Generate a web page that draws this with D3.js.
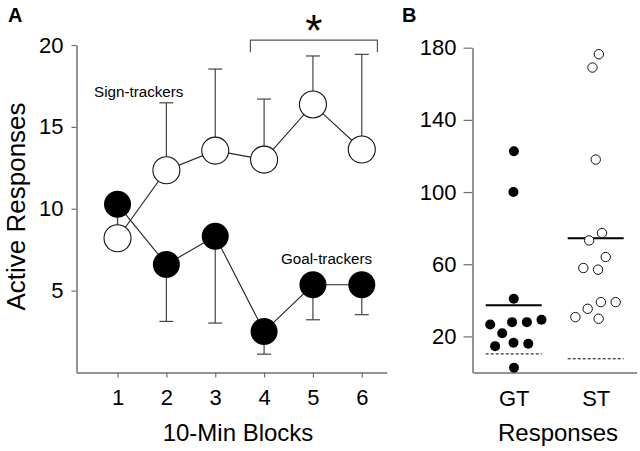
<!DOCTYPE html>
<html><head><meta charset="utf-8">
<script src="https://cdn.jsdelivr.net/npm/d3@7"></script>
<style>body{margin:0;background:#fff}svg{display:block;font-family:"Liberation Sans",Arial,sans-serif}</style>
</head><body>
<script>
// ---- Panel A data ----
const blocks = [1, 2, 3, 4, 5, 6];
const stMean = [8.2, 12.35, 13.55, 13.0, 16.37, 13.62];
const stSem  = [1.8, 4.12, 4.98, 3.7, 2.96, 5.81];
const gtMean = [10.27, 6.6, 8.32, 2.5, 5.36, 5.36];
const gtSem  = [1.5, 3.48, 5.3, 1.38, 2.14, 1.83];
const yTicksA = [5, 10, 15, 20];
const sigBlocks = [3.72, 6.32];
const sigLevel = [20.3, 19.55];
// ---- Panel B data ----
const groupsB = ["GT", "ST"];
const gtResp = [122.6, 100, 40.9, 27.9, 26.6, 29.2, 27.9, 21.8, 15.9, 14.6, 16.5, 2.6];
const stResp = [176.4, 169, 118, 77.3, 73.2, 64, 57, 57.9, 39, 35.3, 39, 29.8, 30.7];
const baselineB = [10.3, 7.6];
const yTicksB = [20, 60, 100, 140, 180];

const W = 640, H = 451;
const svg = d3.select("body").append("svg").attr("width", W).attr("height", H);
svg.append("rect").attr("width", W).attr("height", H).attr("fill", "#fff");
const axisCol = "#707070";

function styleAxis(g, fs) {
  g.selectAll(".domain").attr("stroke", axisCol).attr("stroke-width", 1.5);
  g.selectAll(".tick line").attr("stroke", axisCol).attr("stroke-width", 1.2);
  g.selectAll(".tick text").attr("fill", "#000").style("font-size", fs + "px")
    .style("font-family", '"Liberation Sans",Arial,sans-serif');
}

// ================= Panel A =================
const xA = d3.scaleLinear().domain([0.16, 6.51]).range([76.5, 386.7]);
const yA = d3.scaleLinear().domain([0, 20]).range([372.5, 45]);

const gyA = svg.append("g").attr("transform", "translate(76.5,0)")
  .call(d3.axisLeft(yA).tickValues(yTicksA).tickSize(5).tickSizeOuter(0).tickPadding(8));
styleAxis(gyA, 22);
const gxA = svg.append("g").attr("transform", "translate(0,372.5)")
  .call(d3.axisBottom(xA).tickValues(blocks).tickSize(5).tickSizeOuter(0).tickPadding(12).tickFormat(d3.format("d")));
styleAxis(gxA, 22);

const capW = 7;
const errCol = "#444";
blocks.forEach((b, i) => {
  const x = xA(b);
  const g = svg.append("g").attr("stroke", errCol).attr("stroke-width", 1.2);
  g.append("line").attr("x1", x).attr("x2", x).attr("y1", yA(stMean[i])).attr("y2", yA(stMean[i] + stSem[i]));
  g.append("line").attr("x1", x - capW).attr("x2", x + capW).attr("y1", yA(stMean[i] + stSem[i])).attr("y2", yA(stMean[i] + stSem[i]));
  g.append("line").attr("x1", x).attr("x2", x).attr("y1", yA(gtMean[i])).attr("y2", yA(gtMean[i] - gtSem[i]));
  g.append("line").attr("x1", x - capW).attr("x2", x + capW).attr("y1", yA(gtMean[i] - gtSem[i])).attr("y2", yA(gtMean[i] - gtSem[i]));
});

const lineA = d3.line().x((d, i) => xA(blocks[i])).y(d => yA(d));
svg.append("path").datum(stMean).attr("d", lineA).attr("fill", "none").attr("stroke", "#222").attr("stroke-width", 1.1);
svg.append("path").datum(gtMean).attr("d", lineA).attr("fill", "none").attr("stroke", "#222").attr("stroke-width", 1.1);

svg.selectAll("circle.st").data(stMean).join("circle").attr("class", "st")
  .attr("cx", (d, i) => xA(blocks[i])).attr("cy", d => yA(d)).attr("r", 13.5)
  .attr("fill", "#fff").attr("stroke", "#111").attr("stroke-width", 1.1);
svg.selectAll("circle.gt").data(gtMean).join("circle").attr("class", "gt")
  .attr("cx", (d, i) => xA(blocks[i])).attr("cy", d => yA(d)).attr("r", 13.5)
  .attr("fill", "#000");

svg.append("path")
  .attr("d", `M${xA(sigBlocks[0])},${yA(sigLevel[1])}V${yA(sigLevel[0])}H${xA(sigBlocks[1])}V${yA(sigLevel[1])}`)
  .attr("fill", "none").attr("stroke", "#555").attr("stroke-width", 1.2);
svg.append("text").attr("x", xA((sigBlocks[0] + sigBlocks[1]) / 2)).attr("y", 46)
  .attr("text-anchor", "middle").style("font-size", "44px").text("*");

svg.append("text").attr("x", 94).attr("y", 96.5).style("font-size", "15.2px").text("Sign-trackers");
svg.append("text").attr("x", 281).attr("y", 264).style("font-size", "15.2px").text("Goal-trackers");

svg.append("text").attr("x", 238).attr("y", 441).attr("text-anchor", "middle").style("font-size", "24px").text("10-Min Blocks");
svg.append("text").attr("transform", "translate(25,206.5) rotate(-90)").attr("text-anchor", "middle")
  .style("font-size", "26px").text("Active Responses");
svg.append("text").attr("x", 8).attr("y", 22).style("font-size", "20px").style("font-weight", "bold").text("A");

// ================= Panel B =================
const xB = d3.scalePoint().domain(groupsB).range([472.7, 636.7]).padding(0.5);
const yB = d3.scaleLinear().domain([0, 180]).range([372.5, 47.7]);

const gyB = svg.append("g").attr("transform", "translate(472.5,0)")
  .call(d3.axisLeft(yB).tickValues(yTicksB).tickSize(9).tickSizeOuter(0).tickPadding(7));
styleAxis(gyB, 22);
const gxB = svg.append("g").attr("transform", "translate(0,372.5)")
  .call(d3.axisBottom(xB).tickSize(0).tickPadding(18));
styleAxis(gxB, 22);

const rB = 5;
function swarm(values) {
  const nodes = values.map(v => ({ v, fy: yB(v) }));
  const sim = d3.forceSimulation(nodes)
    .force("x", d3.forceX(0).strength(0.05))
    .force("collide", d3.forceCollide(7.4).strength(0.9))
    .stop();
  for (let i = 0; i < 400; i++) sim.tick();
  return nodes;
}
const gtNodes = swarm(gtResp), stNodes = swarm(stResp);

[[gtResp, "GT", 0], [stResp, "ST", 1]].forEach(([vals, grp, k]) => {
  const cx = xB(grp);
  svg.append("line").attr("x1", cx - 28).attr("x2", cx + 28)
    .attr("y1", yB(d3.mean(vals))).attr("y2", yB(d3.mean(vals)))
    .attr("stroke", "#000").attr("stroke-width", 2);
  svg.append("line").attr("x1", cx - 28).attr("x2", cx + 28)
    .attr("y1", yB(baselineB[k])).attr("y2", yB(baselineB[k]))
    .attr("stroke", "#000").attr("stroke-width", 1).attr("stroke-dasharray", "3,2");
});

svg.selectAll("circle.gtb").data(gtNodes).join("circle").attr("class", "gtb")
  .attr("cx", d => xB("GT") + d.x).attr("cy", d => d.fy).attr("r", rB).attr("fill", "#000");
svg.selectAll("circle.stb").data(stNodes).join("circle").attr("class", "stb")
  .attr("cx", d => xB("ST") + d.x).attr("cy", d => d.fy).attr("r", rB - 0.3)
  .attr("fill", "#fff").attr("stroke", "#111").attr("stroke-width", 1);

svg.append("text").attr("x", 558).attr("y", 441).attr("text-anchor", "middle").style("font-size", "24px").text("Responses");
svg.append("text").attr("x", 402).attr("y", 22).style("font-size", "20px").style("font-weight", "bold").text("B");
</script>
</body></html>
